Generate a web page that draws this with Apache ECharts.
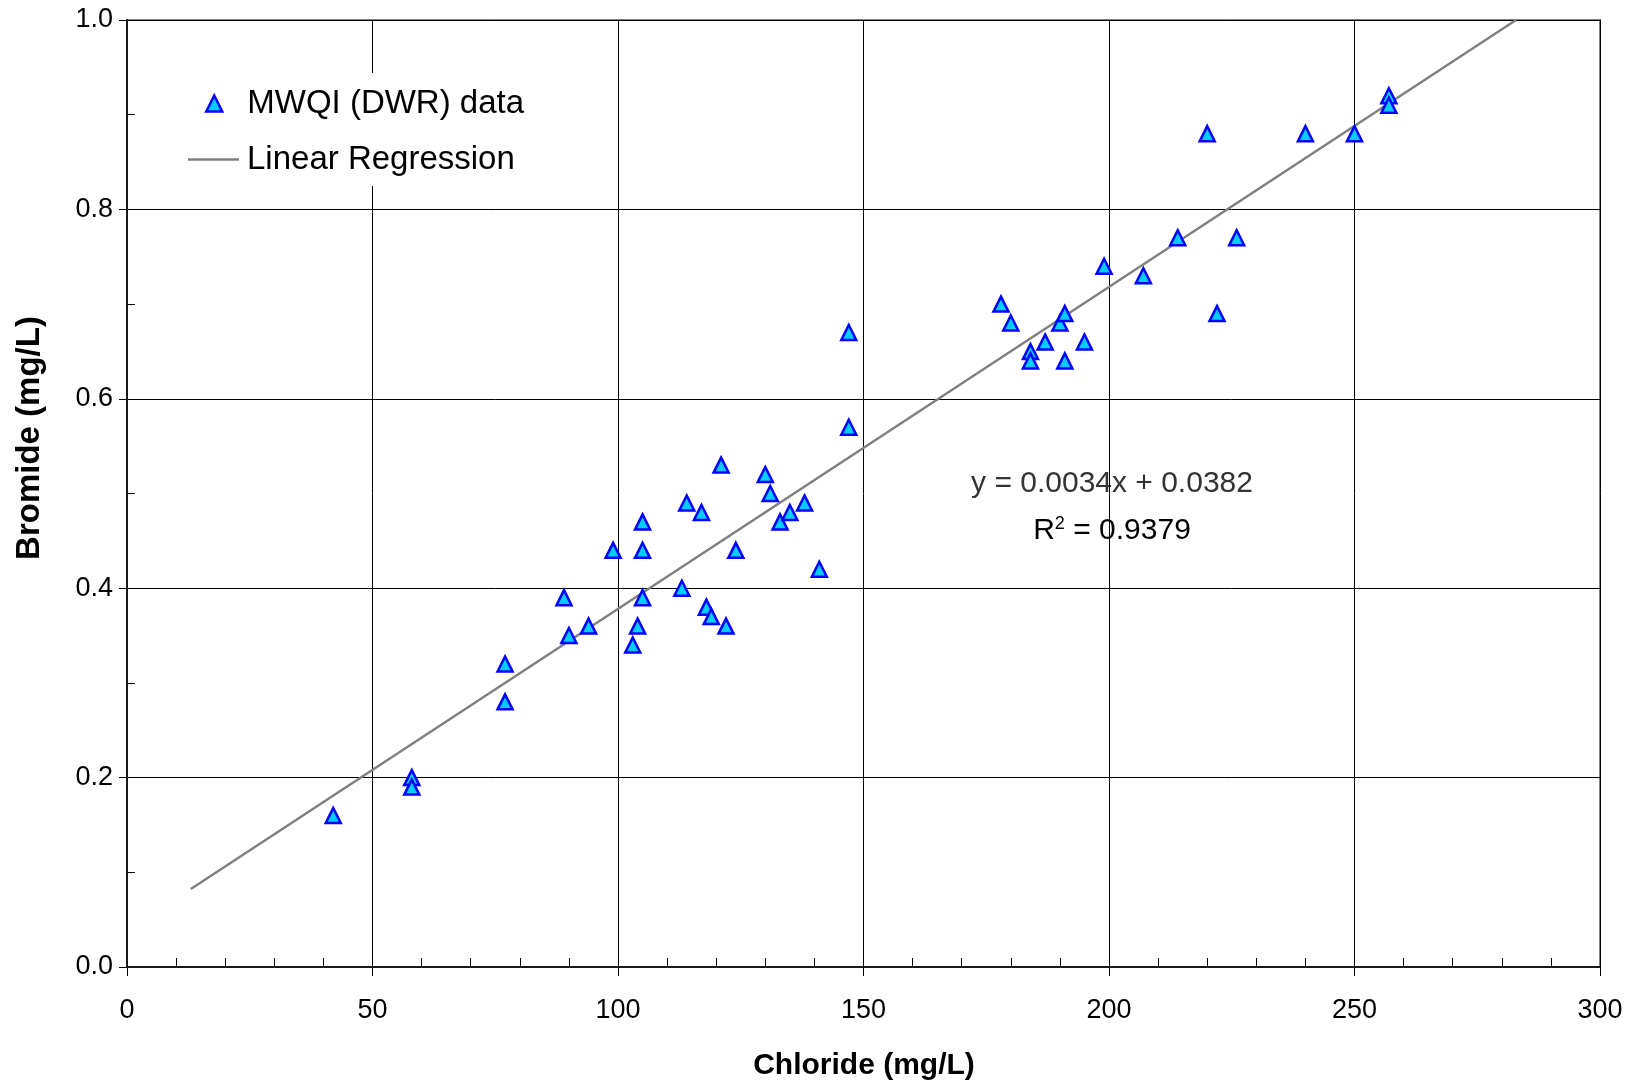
<!DOCTYPE html>
<html>
<head>
<meta charset="utf-8">
<script src="https://cdn.jsdelivr.net/npm/echarts@6/dist/echarts.min.js"></script>
<style>
  html, body { margin: 0; padding: 0; background: #ffffff; }
  #chart { width: 1636px; height: 1085px; }
</style>
</head>
<body>
<div id="chart"></div>
<script>
// MWQI (DWR) samples: chloride vs bromide, both in mg/L
const chlorideMgL = [
  42, 58, 58, 77, 77, 89, 90, 94, 99, 103,
  104, 105, 105, 105, 113, 114, 117, 118, 119, 121,
  122, 124, 130, 131, 133, 135, 138, 141, 147, 147,
  178, 180, 184, 184, 187, 190, 191, 191, 195, 199,
  207, 214, 220, 222, 226, 240, 250, 257, 257
];
const bromideMgL = [
  0.16, 0.20, 0.19, 0.32, 0.28, 0.39, 0.35, 0.36, 0.44, 0.34,
  0.36, 0.39, 0.44, 0.47, 0.40, 0.49, 0.48, 0.38, 0.37, 0.53,
  0.36, 0.44, 0.52, 0.50, 0.47, 0.48, 0.49, 0.42, 0.57, 0.67,
  0.70, 0.68, 0.65, 0.64, 0.66, 0.68, 0.69, 0.64, 0.66, 0.74,
  0.73, 0.77, 0.88, 0.69, 0.77, 0.88, 0.88, 0.92, 0.91
];

// Least-squares fit reported on the chart
const fitSlope = 0.0034;
const fitIntercept = 0.0382;
const fitR2 = 0.9379;
const fitChlorideRange = [13, 282.9];

const xTicks = [0, 50, 100, 150, 200, 250, 300];
const yTicks = [0.0, 0.2, 0.4, 0.6, 0.8, 1.0];

const FONT = '"Liberation Sans", Arial, Helvetica, sans-serif';
const POINT_FILL = '#00ccff';
const POINT_EDGE = '#0000ff';
const FIT_COLOR = '#808080';

const samplePoints = chlorideMgL.map((c, i) => [c, bromideMgL[i]]);
const fitLine = fitChlorideRange.map(c => [c, fitSlope * c + fitIntercept]);

const chart = echarts.init(document.getElementById('chart'), null, { renderer: 'canvas' });

const legendText = { fontFamily: FONT, fontSize: 33, color: '#000000' };

chart.setOption({
  animation: false,
  backgroundColor: '#ffffff',
  grid: {
    left: 127, right: 36, top: 20, bottom: 118,
    show: true,
    borderColor: '#808080',
    borderWidth: 2,
    backgroundColor: 'transparent'
  },
  legend: [
    {
      // sample marker entry
      orient: 'vertical',
      left: 205,
      top: 87,
      padding: 0,
      itemWidth: 16,
      itemHeight: 16,
      icon: 'triangle',
      itemStyle: { color: POINT_FILL, borderColor: POINT_EDGE, borderWidth: 2.5 },
      textStyle: Object.assign({ padding: [0, 0, 0, 20] }, legendText),
      data: ['MWQI (DWR) data']
    },
    {
      // fitted line entry
      orient: 'vertical',
      left: 188,
      top: 143,
      padding: 0,
      itemWidth: 51,
      itemHeight: 2.5,
      icon: 'rect',
      itemStyle: { color: FIT_COLOR, borderWidth: 0 },
      textStyle: Object.assign({ padding: [0, 0, 0, 3] }, legendText),
      data: ['Linear Regression']
    }
  ],
  xAxis: {
    type: 'value',
    min: xTicks[0],
    max: xTicks[xTicks.length - 1],
    interval: 50,
    axisLine: { show: true, onZero: false, lineStyle: { color: '#1a1a1a', width: 2 } },
    axisTick: { show: true, length: 9, lineStyle: { color: '#000000', width: 1 } },
    minorTick: { show: true, splitNumber: 5, length: -9, lineStyle: { color: '#000000', width: 1 } },
    splitLine: { show: true, lineStyle: { color: '#000000', width: 1 } },
    axisLabel: { fontFamily: FONT, fontSize: 27, color: '#000000', margin: 30 }
  },
  yAxis: {
    type: 'value',
    min: yTicks[0],
    max: yTicks[yTicks.length - 1],
    interval: 0.2,
    axisLine: { show: true, onZero: false, lineStyle: { color: '#1a1a1a', width: 2 } },
    axisTick: { show: true, length: 8, lineStyle: { color: '#000000', width: 1 } },
    minorTick: { show: true, splitNumber: 2, length: -8, lineStyle: { color: '#000000', width: 1 } },
    splitLine: { show: true, lineStyle: { color: '#000000', width: 1 } },
    axisLabel: {
      fontFamily: FONT, fontSize: 27, color: '#000000', margin: 14,
      formatter: v => v.toFixed(1)
    }
  },
  series: [
    {
      name: 'Linear Regression',
      type: 'line',
      data: fitLine,
      symbol: 'none',
      clip: true,
      lineStyle: { color: FIT_COLOR, width: 2.5 },
      itemStyle: { color: FIT_COLOR },
      z: 2
    },
    {
      name: 'MWQI (DWR) data',
      type: 'scatter',
      data: samplePoints,
      symbol: 'triangle',
      symbolSize: 15,
      itemStyle: { color: POINT_FILL, borderColor: POINT_EDGE, borderWidth: 2.5, opacity: 1 },
      z: 3
    }
  ],
  graphic: [
    {
      // white panel behind the legend entries
      type: 'rect',
      z: 1,
      shape: { x: 176, y: 73, width: 360, height: 113 },
      style: { fill: '#ffffff' }
    },
    {
      type: 'text',
      x: 864, y: 1066,
      style: {
        text: 'Chloride (mg/L)',
        font: 'bold 30px ' + FONT,
        fill: '#000000',
        align: 'center',
        verticalAlign: 'middle'
      }
    },
    {
      type: 'text',
      x: 30, y: 438,
      rotation: Math.PI / 2,
      style: {
        text: 'Bromide (mg/L)',
        font: 'bold 33px ' + FONT,
        fill: '#000000',
        align: 'center',
        verticalAlign: 'middle'
      }
    },
    {
      type: 'text',
      x: 1112, y: 484,
      style: {
        text: 'y = ' + fitSlope.toFixed(4) + 'x + ' + fitIntercept.toFixed(4),
        font: '30px ' + FONT,
        fill: '#333333',
        align: 'center',
        verticalAlign: 'middle'
      }
    },
    {
      type: 'text',
      x: 1112, y: 531,
      style: {
        text: '{b|R}{s|2}{b| = ' + fitR2.toFixed(4) + '}',
        align: 'center',
        verticalAlign: 'middle',
        rich: {
          b: { fontFamily: FONT, fontSize: 30, color: '#333333', lineHeight: 32 },
          s: { fontFamily: FONT, fontSize: 18, color: '#333333', verticalAlign: 'top', lineHeight: 20 }
        }
      }
    }
  ]
});
</script>
</body>
</html>
